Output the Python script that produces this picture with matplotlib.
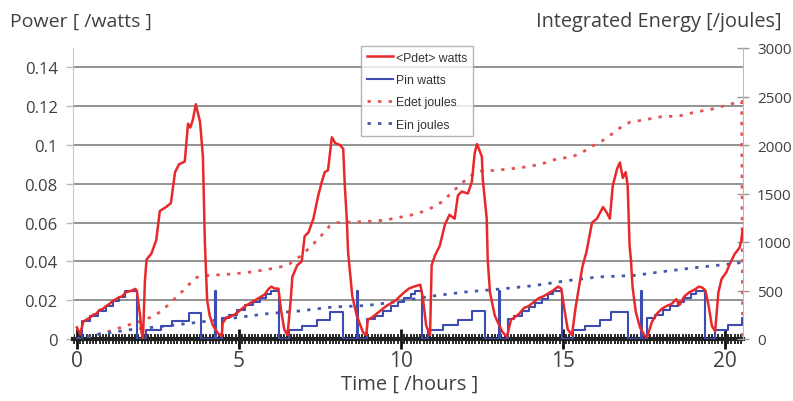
import matplotlib
matplotlib.use("Agg")
import matplotlib.pyplot as plt
from matplotlib.ticker import MultipleLocator
from matplotlib.lines import Line2D

# ---------------- data ----------------
pdet_t = [0.0, 0.1, 0.2, 0.3, 0.4, 0.5, 0.6, 0.7, 0.8, 0.9, 1.0, 1.1, 1.2, 1.3, 1.4, 1.5, 1.6, 1.7, 1.8, 1.85, 1.95, 2.0, 2.04,
          2.1, 2.15, 2.3, 2.45, 2.56, 2.75, 2.9, 3.03, 3.15, 3.33, 3.43, 3.5, 3.58, 3.67, 3.8, 3.89, 3.95, 4.02, 4.1, 4.2, 4.35, 4.47,
          4.5, 4.6, 4.75, 4.9, 5.05, 5.2, 5.35, 5.5, 5.65, 5.8, 5.9, 6.0, 6.1, 6.22, 6.3, 6.4, 6.5,
          6.6, 6.65, 6.8, 6.94, 7.03, 7.15, 7.3, 7.45, 7.56, 7.65, 7.75, 7.87, 7.97, 8.12, 8.22, 8.27, 8.33, 8.37, 8.5, 8.64, 8.83, 8.93,
          8.98, 9.1, 9.25, 9.4, 9.55, 9.7, 9.85, 9.97, 10.1, 10.25, 10.4, 10.6, 10.68, 10.78, 10.9,
          10.95, 11.05, 11.2, 11.36, 11.5, 11.66, 11.76, 11.88, 12.07, 12.19, 12.28, 12.35, 12.5, 12.53, 12.65, 12.68, 12.75, 12.9, 13.12, 13.27,
          13.4, 13.5, 13.65, 13.8, 13.95, 14.1, 14.25, 14.4, 14.55, 14.7, 14.85, 14.95, 15.05, 15.15, 15.28,
          15.4, 15.5, 15.6, 15.73, 15.9, 16.05, 16.24, 16.36, 16.45, 16.54, 16.67, 16.76, 16.85, 16.94, 17.0, 17.06, 17.1, 17.15, 17.25, 17.38, 17.53, 17.6,
          17.75, 17.9, 18.05, 18.2, 18.35, 18.5, 18.6, 18.75, 18.9, 19.07, 19.2, 19.3, 19.4, 19.5, 19.6, 19.7,
          19.75, 19.8, 19.9, 20.05, 20.15, 20.3, 20.45, 20.5, 20.55]
pdet_w = [0.006, 0.0025, 0.009, 0.010, 0.011, 0.0125, 0.013, 0.015, 0.0155, 0.017, 0.018, 0.0195, 0.0205, 0.0215, 0.022, 0.024, 0.0245, 0.025, 0.0258, 0.025, 0.012, 0.003, 0.0005,
          0.030, 0.041, 0.044, 0.051, 0.066, 0.068, 0.070, 0.086, 0.090, 0.0915, 0.111, 0.109, 0.113, 0.121, 0.112, 0.094, 0.050, 0.020, 0.012, 0.007, 0.003, 0.0015,
          0.008, 0.011, 0.0115, 0.013, 0.015, 0.017, 0.0185, 0.020, 0.0215, 0.023, 0.0255, 0.027, 0.026, 0.026, 0.015, 0.005, 0.002,
          0.020, 0.032, 0.038, 0.040, 0.053, 0.055, 0.062, 0.074, 0.081, 0.086, 0.087, 0.104, 0.101, 0.100, 0.098, 0.079, 0.062, 0.045, 0.022, 0.012, 0.0035, 0.002,
          0.010, 0.011, 0.013, 0.015, 0.017, 0.0185, 0.020, 0.022, 0.024, 0.026, 0.027, 0.028, 0.021, 0.007, 0.002,
          0.038, 0.043, 0.048, 0.059, 0.064, 0.062, 0.074, 0.076, 0.075, 0.081, 0.096, 0.1005, 0.094, 0.082, 0.062, 0.041, 0.024, 0.012, 0.004, 0.001,
          0.010, 0.011, 0.013, 0.016, 0.017, 0.019, 0.021, 0.022, 0.0235, 0.025, 0.027, 0.026, 0.015, 0.005, 0.002,
          0.017, 0.027, 0.037, 0.045, 0.060, 0.062, 0.068, 0.065, 0.062, 0.079, 0.0875, 0.091, 0.083, 0.086, 0.079, 0.048, 0.041, 0.027, 0.014, 0.006, 0.0015, 0.001,
          0.0088, 0.013, 0.0155, 0.017, 0.018, 0.0205, 0.0175, 0.022, 0.024, 0.0255, 0.027, 0.0265, 0.025, 0.017, 0.0067, 0.004,
          0.014, 0.024, 0.031, 0.0345, 0.0386, 0.0437, 0.047, 0.050, 0.0566]

pin_t = [0.0, 0.15, 0.4, 0.65, 0.9, 1.1, 1.3, 1.5, 1.85, 2.12, 2.6, 2.95, 3.45, 3.83, 4.26, 4.29,
         4.47, 4.7, 4.95, 5.2, 5.45, 5.65, 5.85, 6.0, 6.23, 6.55, 6.95, 7.4, 7.8, 8.2, 8.64, 8.67,
         8.95, 9.2, 9.45, 9.7, 9.9, 10.1, 10.3, 10.45, 10.65, 10.84, 11.3, 11.75, 12.2, 12.6, 13.03, 13.06,
         13.3, 13.5, 13.75, 13.95, 14.15, 14.35, 14.55, 14.7, 14.97, 15.3, 15.67, 16.14, 16.5, 17.0, 17.4, 17.43,
         17.6, 17.85, 18.1, 18.3, 18.55, 18.75, 18.95, 19.1, 19.4, 19.7, 20.1, 20.53, 20.56]
pin_w = [0.0, 0.0095, 0.012, 0.0145, 0.017, 0.0195, 0.0215, 0.0245, 0.0, 0.0045, 0.0065, 0.0095, 0.0135, 0.0, 0.025, 0.0,
         0.011, 0.0125, 0.015, 0.0175, 0.019, 0.021, 0.023, 0.0245, 0.0, 0.0046, 0.0067, 0.0098, 0.014, 0.0, 0.025, 0.0,
         0.0105, 0.012, 0.0145, 0.017, 0.019, 0.021, 0.023, 0.025, 0.0, 0.0046, 0.0072, 0.0098, 0.0144, 0.0, 0.025, 0.0,
         0.0103, 0.012, 0.0145, 0.0165, 0.0185, 0.0205, 0.023, 0.025, 0.0, 0.0046, 0.0065, 0.0098, 0.014, 0.0, 0.025, 0.0,
         0.011, 0.0125, 0.015, 0.017, 0.019, 0.021, 0.023, 0.0245, 0.0, 0.0046, 0.007, 0.011, 0.011]

edet_t = [0.0, 0.5, 1.0, 1.64, 2.04, 2.45, 2.78, 3.1, 3.4, 3.65, 3.85, 4.3, 4.8, 5.34, 5.86, 6.3, 6.57, 6.9, 7.2, 7.5, 7.8, 8.05,
          8.33, 8.95, 9.5, 9.97, 10.5, 11.0, 11.3, 11.6, 11.8, 12.13, 12.45, 12.75, 13.27, 13.77, 14.3, 14.8, 15.3, 15.6, 15.92,
          16.2, 16.5, 16.8, 17.07, 17.45, 18.0, 18.6, 19.1, 19.6, 20.15, 20.52, 20.55]
edet_j = [0, 35, 80, 150, 190, 250, 340, 440, 540, 630, 650, 660, 670, 690, 715, 745, 775, 855, 945, 1050, 1165, 1200,
          1205, 1210, 1225, 1255, 1290, 1360, 1420, 1520, 1580, 1680, 1730, 1735, 1750, 1770, 1800, 1855, 1880, 1925, 1990,
          2040, 2110, 2185, 2235, 2255, 2290, 2300, 2340, 2370, 2420, 2450, 0]

ein_t = [0.0, 0.7, 1.73, 2.78, 3.8, 4.8, 5.86, 6.9, 7.9, 8.95, 10.0, 10.9, 12.0, 13.06, 14.1, 15.1, 16.1, 17.2, 18.2, 19.2, 20.2, 20.55]
ein_j = [0, 50, 100, 135, 175, 215, 260, 290, 330, 345, 390, 440, 485, 515, 550, 600, 640, 655, 700, 740, 775, 790]

labels = ["<Pdet> watts", "Pin watts", "Edet joules", "Ein joules"]
xticks = [0, 5, 10, 15, 20]

# ---------------- figure ----------------
RED = "#e8282b"
BLUE = "#3c4cb0"
RED_D = "#e35252"
BLUE_D = "#3f5aa8"
GRAY_T = "#404040"

plt.rcParams['font.family'] = ['Open Sans', 'DejaVu Sans']

fig = plt.figure(figsize=(7.93, 4.02), dpi=100)
ax = fig.add_axes([73/793, 62/402, 670/793, 291/402])
ax2 = ax.twinx()

ax.set_xlim(-0.12, 20.56)
ax.set_ylim(0, 0.15)
ax2.set_ylim(0, 3000)

ax.set_yticks([0, 0.02, 0.04, 0.06, 0.08, 0.1, 0.12, 0.14])
ax.set_yticklabels(["0", "0.02", "0.04", "0.06", "0.08", "0.1", "0.12", "0.14"])
ax.yaxis.grid(True, color="#8a8a8a", lw=1.3)
ax.set_axisbelow(True)

ax.set_xticks(xticks)
ax.xaxis.set_minor_locator(MultipleLocator(0.1))
ax.tick_params(axis='x', which='minor', direction='inout', length=7, width=1.4, color='#2a2a2a')
ax.tick_params(axis='x', which='major', direction='inout', length=14, width=2.0, color='#111111',
               labelsize=15, labelcolor=GRAY_T, pad=1)
ax.tick_params(axis='y', which='major', direction='out', length=5, width=1, color='#bbbbbb',
               labelsize=12, labelcolor=GRAY_T, pad=6)
ax2.set_yticks([0, 500, 1000, 1500, 2000, 2500, 3000])
ax2.tick_params(axis='y', direction='inout', length=8, width=1, color='#999999',
                labelsize=11, labelcolor=GRAY_T, pad=6)

for s in ['top']:
    ax.spines[s].set_visible(False)
    ax2.spines[s].set_visible(False)
ax.spines['left'].set_color('#c8c8c8')
ax.spines['right'].set_visible(False)
ax2.spines['left'].set_visible(False)
ax2.spines['bottom'].set_visible(False)
ax2.spines['right'].set_color('#bbbbbb')
ax.spines['bottom'].set_color('#222222')
ax.spines['bottom'].set_linewidth(3.0)

# lines
ax2.plot(edet_t, edet_j, color=RED_D, lw=2.0, ls=(0, (1.2, 2.6)), zorder=2)
ax2.plot(ein_t, ein_j, color=BLUE_D, lw=2.0, ls=(0, (1.2, 2.6)), zorder=2)
ax2.step(pin_t, [v * 20000 for v in pin_w], where='post', color=BLUE, lw=1.5, zorder=3)
ax2.plot(pdet_t, [v * 20000 for v in pdet_w], color=RED, lw=1.8, zorder=4)

# legend
handles = [Line2D([], [], color=RED, lw=1.8),
           Line2D([], [], color=BLUE, lw=1.5),
           Line2D([], [], color=RED_D, lw=2.0, ls=(0, (1.2, 2.6))),
           Line2D([], [], color=BLUE_D, lw=2.0, ls=(0, (1.2, 2.6)))]
leg = fig.legend(handles, labels, loc='upper left', bbox_to_anchor=(361/793, 1 - 47/402),
                 frameon=True, fancybox=False, labelspacing=0.85,
                 handlelength=2.2, handletextpad=0.2, borderpad=0.45, borderaxespad=0,
                 prop={'family': ['Liberation Sans', 'DejaVu Sans'], 'size': 8.8})
leg.get_frame().set_edgecolor('#a0a0a0')
leg.get_frame().set_linewidth(1.0)
for t in leg.get_texts():
    t.set_color('#333333')

# axis titles
fig.text(10/793, 1 - 22/402, "Power [ /watts ]", fontsize=14, color=GRAY_T, va='center', ha='left')
fig.text(782/793, 1 - 22/402, "Integrated Energy [/joules]", fontsize=14.3, color=GRAY_T, va='center', ha='right')
fig.text(410/793, 1 - 385/402, "Time [ /hours ]", fontsize=14.5, color=GRAY_T, va='center', ha='center')

fig.savefig("out.png", dpi=100)
